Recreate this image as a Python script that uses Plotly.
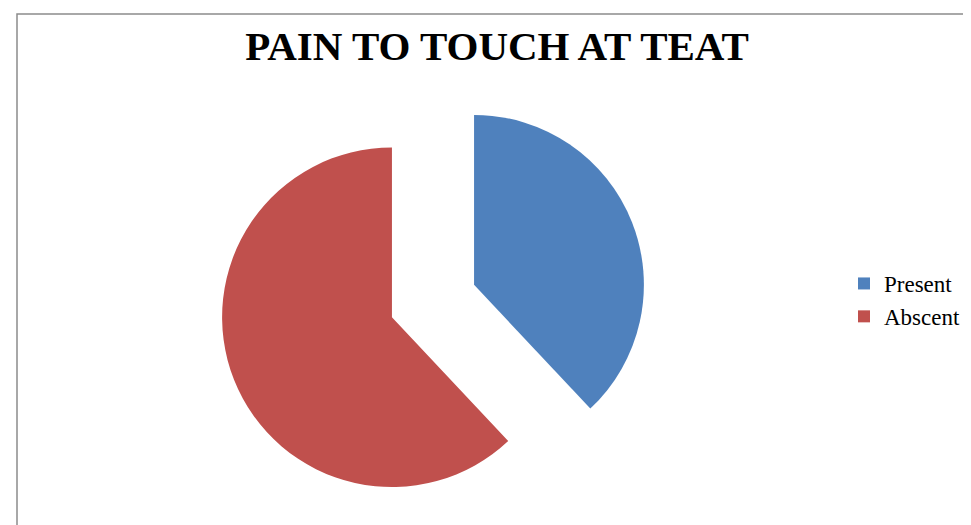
import plotly.graph_objects as go

labels = ["Present", "Abscent"]
values = [38, 62]
colors = ["#4F81BD", "#C0504D"]
pulls = [0.26, 0.26]

W, H = 971, 525

cx, cy, half = 425.0, 293.0, 214.0

fig = go.Figure(go.Pie(
    labels=labels,
    values=values,
    marker=dict(colors=colors, line=dict(width=0)),
    pull=pulls,
    sort=False,
    direction="clockwise",
    rotation=0,
    textinfo="none",
    hoverinfo="label+value+percent",
    domain=dict(x=[(cx - half) / W, (cx + half) / W],
                y=[1 - (cy + half) / H, 1 - (cy - half) / H]),
))

fig.update_layout(
    width=W, height=H,
    margin=dict(l=0, r=0, t=0, b=0),
    paper_bgcolor="white",
    plot_bgcolor="white",
    title=dict(
        text="<b>PAIN TO TOUCH AT TEAT</b>",
        font=dict(family="Liberation Serif, Times New Roman, serif", size=41, color="black"),
        x=489 / W, xanchor="center",
        y=1 - 38 / H, yanchor="middle",
    ),
    legend=dict(
        x=836 / W, xanchor="left",
        y=1 - 292 / H, yanchor="middle",
        font=dict(family="Liberation Serif, Times New Roman, serif", size=23, color="black"),
        bgcolor="rgba(0,0,0,0)",
    ),
    shapes=[dict(
        type="rect", xref="paper", yref="paper",
        x0=9 / W, x1=1.05, y0=-0.05, y1=1 - 6 / H,
        line=dict(color="#8c8c8c", width=1.5),
    )],
)

fig.write_html("out.html")
